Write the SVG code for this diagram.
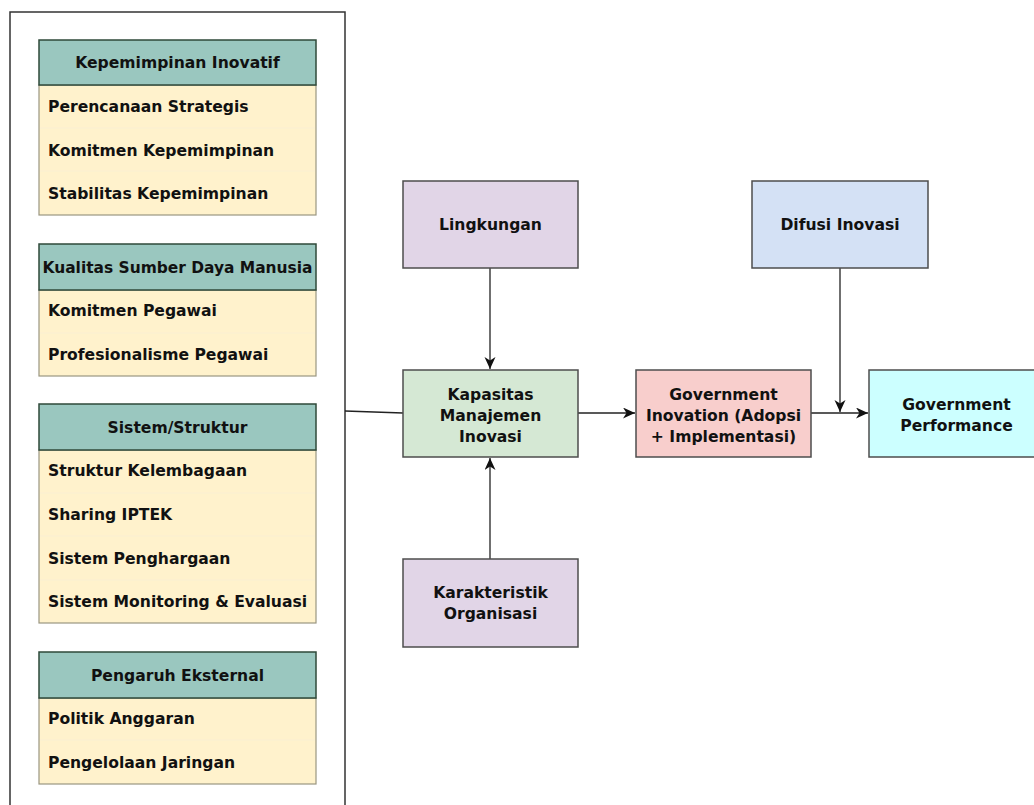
<svg xmlns="http://www.w3.org/2000/svg" width="1034" height="805" viewBox="0 0 1034 805">
<style>
text{font-family:"DejaVu Sans","Liberation Sans",sans-serif;font-weight:bold;font-size:15.6px;fill:#111}
.c{text-anchor:middle}
.hd{fill:#9AC7BF;stroke:#2F4A3A;stroke-width:1.5}
.bd{fill:#FFF2CC;stroke:#9A9680;stroke-width:1.2}
.sep{stroke:#FAEFD2;stroke-width:1}
.n{stroke:#4D4D4D;stroke-width:1.5}
.e{stroke:#222;stroke-width:1.3;fill:none}
</style>
<defs>
<marker id="ar" markerWidth="14" markerHeight="12" refX="12" refY="5.5" orient="auto" markerUnits="userSpaceOnUse">
<path d="M0,0 L12,5.5 L0,11 L3.5,5.5 Z" fill="#111"/>
</marker>
</defs>
<rect width="1034" height="805" fill="#fff"/>
<g id="outer">
<path d="M10,810 L10,12 L345,12 L345,810" fill="none" stroke="#333" stroke-width="1.5"/>
</g>
<g id="kepemimpinan">
<rect class="bd" x="39" y="85" width="277" height="130"/>
<line class="sep" x1="40" y1="128" x2="315" y2="128"/>
<line class="sep" x1="40" y1="171" x2="315" y2="171"/>
<rect class="hd" x="39" y="40" width="277" height="45"/>
<text class="c" x="177.5" y="68">Kepemimpinan Inovatif</text>
<text x="48" y="112">Perencanaan Strategis</text>
<text x="48" y="156">Komitmen Kepemimpinan</text>
<text x="48" y="199">Stabilitas Kepemimpinan</text>
</g>
<g id="sdm">
<rect class="bd" x="39" y="290" width="277" height="86"/>
<line class="sep" x1="40" y1="333" x2="315" y2="333"/>
<rect class="hd" x="39" y="244" width="277" height="46"/>
<text class="c" x="177.5" y="273" textLength="270" lengthAdjust="spacingAndGlyphs">Kualitas Sumber Daya Manusia</text>
<text x="48" y="316">Komitmen Pegawai</text>
<text x="48" y="360">Profesionalisme Pegawai</text>
</g>
<g id="sistem">
<rect class="bd" x="39" y="450" width="277" height="173"/>
<line class="sep" x1="40" y1="493" x2="315" y2="493"/>
<line class="sep" x1="40" y1="536" x2="315" y2="536"/>
<line class="sep" x1="40" y1="580" x2="315" y2="580"/>
<rect class="hd" x="39" y="404" width="277" height="46"/>
<text class="c" x="177.5" y="433">Sistem/Struktur</text>
<text x="48" y="476">Struktur Kelembagaan</text>
<text x="48" y="520">Sharing IPTEK</text>
<text x="48" y="564">Sistem Penghargaan</text>
<text x="48" y="607">Sistem Monitoring &amp; Evaluasi</text>
</g>
<g id="eksternal">
<rect class="bd" x="39" y="698" width="277" height="86"/>
<line class="sep" x1="40" y1="740" x2="315" y2="740"/>
<rect class="hd" x="39" y="652" width="277" height="46"/>
<text class="c" x="177.5" y="681">Pengaruh Eksternal</text>
<text x="48" y="724">Politik Anggaran</text>
<text x="48" y="768">Pengelolaan Jaringan</text>
</g>
<g id="connectors">
<line class="e" x1="345" y1="411" x2="403" y2="413"/>
<line class="e" x1="490" y1="268" x2="490" y2="369" marker-end="url(#ar)"/>
<line class="e" x1="490" y1="559" x2="490" y2="458" marker-end="url(#ar)"/>
<line class="e" x1="578" y1="413" x2="635" y2="413" marker-end="url(#ar)"/>
<line class="e" x1="840" y1="268" x2="840" y2="412" marker-end="url(#ar)"/>
<line class="e" x1="811" y1="413" x2="868" y2="413" marker-end="url(#ar)"/>
</g>
<g id="lingkungan">
<rect class="n" x="403" y="181" width="175" height="87" fill="#E1D5E7"/>
<text class="c" x="490.5" y="230">Lingkungan</text>
</g>
<g id="kapasitas">
<rect class="n" x="403" y="370" width="175" height="87" fill="#D5E8D4"/>
<text class="c" x="490.5" y="400">Kapasitas</text>
<text class="c" x="490.5" y="421">Manajemen</text>
<text class="c" x="490.5" y="442">Inovasi</text>
</g>
<g id="karakteristik">
<rect class="n" x="403" y="559" width="175" height="88" fill="#E1D5E7"/>
<text class="c" x="490.5" y="598">Karakteristik</text>
<text class="c" x="490.5" y="619">Organisasi</text>
</g>
<g id="govinov">
<rect class="n" x="636" y="370" width="175" height="87" fill="#F8CECC"/>
<text class="c" x="723.5" y="400">Government</text>
<text class="c" x="723.5" y="421">Inovation (Adopsi</text>
<text class="c" x="723.5" y="442">+ Implementasi)</text>
</g>
<g id="difusi">
<rect class="n" x="752" y="181" width="176" height="87" fill="#D4E1F5"/>
<text class="c" x="840" y="230">Difusi Inovasi</text>
</g>
<g id="govperf">
<rect class="n" x="869" y="370" width="175" height="87" fill="#CCFFFF"/>
<text class="c" x="956.5" y="410">Government</text>
<text class="c" x="956.5" y="431">Performance</text>
</g>
</svg>
